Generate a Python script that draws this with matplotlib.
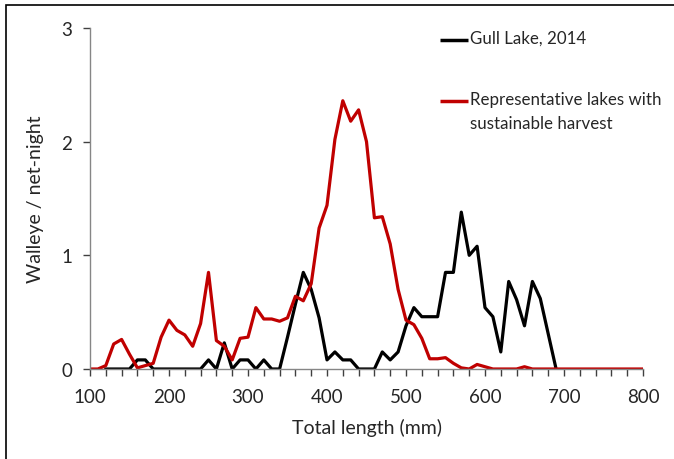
import matplotlib
matplotlib.use("Agg")
from matplotlib import pyplot as plt
from matplotlib.patches import Rectangle
from matplotlib.ticker import MultipleLocator

plt.rcParams['font.family'] = ['Lato', 'DejaVu Sans']

# length classes (mm)
gull_len = list(range(120, 700, 10))
gull_cpue = [0, 0, 0, 0, 0.08, 0.08, 0, 0, 0, 0, 0, 0, 0, 0.08, 0, 0.23,
             0, 0.08, 0.08, 0, 0.08, 0, 0, 0.28, 0.57, 0.85, 0.7, 0.45, 0.08, 0.15,
             0.08, 0.08, 0, 0, 0, 0.15, 0.08, 0.15, 0.38, 0.54, 0.46, 0.46, 0.46, 0.85,
             0.85, 1.38, 1.0, 1.08, 0.54, 0.46, 0.15, 0.77, 0.61, 0.38, 0.77, 0.62, 0.31, 0]

rep_len = list(range(100, 810, 10))
rep_cpue = [0, 0, 0.03, 0.22, 0.26, 0.13, 0.01, 0.03, 0.05, 0.28, 0.43, 0.34, 0.3, 0.2,
            0.4, 0.85, 0.25, 0.2, 0.08, 0.27, 0.28, 0.54, 0.44, 0.44, 0.42, 0.45, 0.64,
            0.6, 0.75, 1.24, 1.44, 2.02, 2.36, 2.18, 2.28, 2.0, 1.33, 1.34, 1.1, 0.7,
            0.43, 0.39, 0.27, 0.09, 0.09, 0.1, 0.05, 0.01, 0, 0.04, 0.02, 0, 0, 0, 0,
            0.02, 0, 0, 0, 0, 0, 0, 0, 0, 0, 0, 0, 0, 0, 0, 0]

labels = ['Gull Lake, 2014', 'Representative lakes with\nsustainable harvest']
colors = ['black', '#c00000']

fig = plt.figure(figsize=(6.74, 4.6), dpi=100)
ax = fig.add_axes([90 / 674, 1 - 370 / 460, 553 / 674, 341 / 460])

ax.plot(gull_len, gull_cpue, color=colors[0], lw=2.3)
ax.plot(rep_len, rep_cpue, color=colors[1], lw=2.3)

ax.set_xlim(100, 800)
ax.set_ylim(0, 3)
ax.xaxis.set_major_locator(MultipleLocator(100))
ax.xaxis.set_minor_locator(MultipleLocator(20))
ax.yaxis.set_major_locator(MultipleLocator(1))
for s in ['top', 'right']:
    ax.spines[s].set_visible(False)
for s in ['left', 'bottom']:
    ax.spines[s].set_color('#868686')
    ax.spines[s].set_linewidth(1)
ax.tick_params(which='both', color='#404040', width=1, labelsize=13.5, labelcolor='#262626')
ax.tick_params(axis='x', which='both', length=5, pad=9)
ax.tick_params(axis='y', length=5, pad=8)

ax.set_xlabel('Total length (mm)', fontsize=14, color='#262626', labelpad=9)
ax.set_ylabel('Walleye / net-night', fontsize=14, color='#262626', labelpad=12)

# legend drawn by hand: handle beside the first line of each label
leg_y = [0.965, 0.785]
for lab, col, y in zip(labels, colors, leg_y):
    ax.plot([0.633, 0.683], [y, y], color=col, lw=2.5, transform=ax.transAxes,
            clip_on=False, solid_capstyle='butt')
    ax.text(0.688, y + 0.03, lab, transform=ax.transAxes, fontsize=12.2,
            color='#262626', va='top', ha='left', linespacing=1.6)

# outer frame (right and bottom edges cut off in the original)
fig.patches.append(Rectangle((6 / 674, -0.1), 1.2, 1 - 6 / 460 + 0.1,
                             transform=fig.transFigure, fill=False,
                             edgecolor='black', lw=1.2))

fig.savefig('out.png', dpi=100)
